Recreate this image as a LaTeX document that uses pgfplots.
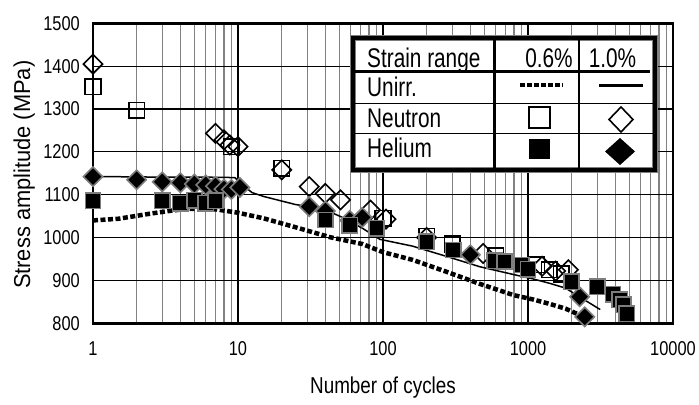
\documentclass[border=0pt]{standalone}
\usepackage{fontspec}
\setmainfont{Liberation Sans}[FakeStretch=0.82]
\newfontfamily\legfont{Liberation Sans}[FakeStretch=0.77]
\newfontfamily\ylabfont{Liberation Sans}[FakeStretch=0.95]
\usepackage{pgfplots}
\pgfplotsset{compat=1.18}
\definecolor{mgray}{RGB}{130,130,130}
\definecolor{ogray}{RGB}{125,125,125}

\begin{document}
\begin{tikzpicture}
\begin{axis}[
  scale only axis, width=580pt, height=300pt,
  xmode=log, xmin=1, xmax=10000, ymin=800, ymax=1500,
  xtick={1,10,100,1000,10000}, xticklabels={1,10,100,1000,10000},
  minor xtick={2,3,4,5,6,7,8,9,20,30,40,50,60,70,80,90,200,300,400,500,600,700,800,900,2000,3000,4000,5000,6000,7000,8000,9000},
  ytick={800,900,1000,1100,1200,1300,1400,1500},
  yticklabels={800,900,1000,1100,1200,1300,1400,1500},
  major tick length=0pt, minor tick length=0pt,
  xmajorgrids, xminorgrids, ymajorgrids,
  major grid style={black, line width=1.2pt},
  minor grid style={mgray, line width=1.2pt},
  axis line style={black, line width=2.5pt},
  tick label style={font=\fontsize{20}{24}\selectfont, inner sep=0pt},
  xticklabel style={anchor=north, yshift=-18pt},
  yticklabel style={anchor=east, xshift=-13pt},
  label style={font=\fontsize{23}{27}\selectfont},
  xlabel={Number of cycles}, ylabel={Stress amplitude (MPa)},
  xlabel style={at={(axis description cs:0.5,-0.235)}, anchor=base},
  ylabel style={at={(axis description cs:-0.1086,0.495)}, anchor=base, font=\ylabfont\fontsize{23}{27}\selectfont},
  clip=false,
]
% Unirr. 0.6%
\addplot[black, line width=4.5pt, dash pattern=on 5pt off 2.5pt] coordinates {
 (1,1040) (1.5,1044) (2.5,1056) (3.5,1063) (4.5,1067) (7,1066) (10,1058)
 (15,1045) (25,1024) (43,1001) (72,985) (100,966) (160,948) (275,920)
 (465,892) (790,866) (1070,856) (1420,845) (1820,834) (2500,813)};
% Unirr. 1.0%
\addplot[black, line width=1.5pt] coordinates {
 (1,1142) (1.5,1142) (3,1141) (6,1141) (9.5,1140) (11,1120) (12.5,1105)
 (15,1096) (25,1077) (38,1068) (51,1049) (72,1022) (95,996) (160,980)
 (275,956) (465,932) (790,914) (1070,904) (1420,893) (1820,882) (2160,866) (3150,832)};
% Neutron 0.6%
\addplot[only marks, mark=square, mark size=7.8pt, mark options={draw=black, line width=1.6pt}] coordinates {
 (1,1352) (2,1297) (9,1212) (20,1162) (100,1045) (200,1003) (300,985)
 (600,958) (1150,937) (1400,925) (1700,915)};
% Neutron 1.0%
\addplot[only marks, mark=square, mark size=6.8pt, mark options={rotate=45, draw=black, line width=1.6pt}] coordinates {
 (1,1405) (7,1243) (8,1228) (8.8,1216) (10,1212) (20,1158) (31,1119) (40,1103)
 (51,1088) (82,1064) (105,1043) (200,1000) (490,963) (1250,933) (1550,922) (1900,925)};
% Helium 1.0%
\addplot[only marks, mark=square*, mark size=6.8pt, mark options={rotate=45, fill=black, draw=ogray, line width=1.6pt}] coordinates {
 (1,1142) (2,1135) (3,1130) (4,1128) (5,1125) (6,1123) (7,1120) (8,1113) (9,1112)
 (10.3,1117) (31,1072) (40,1062) (59,1040) (72,1047) (400,960) (2270,862) (2460,815)};
% Helium 0.6%
\addplot[only marks, mark=square*, mark size=7.6pt, mark options={fill=black, draw=ogray, line width=1.6pt}] coordinates {
 (1,1086) (3,1086) (4,1080) (5,1087) (6,1080) (7,1086) (40,1041) (59,1029) (90,1022)
 (200,990) (305,971) (590,946) (690,944) (900,936) (1000,926) (2000,897) (3000,885)
 (3860,868) (4300,855) (4550,843) (4800,822)};
\end{axis}
% legend table
\begin{scope}[shift={(current axis.north west)}, xshift=-93pt, yshift=23.3pt, x=1pt, y=-1pt,
  every node/.style={inner sep=0pt, font=\legfont\fontsize{27}{30}\selectfont}]
 \fill[white] (353,38) rectangle (655,170);
 \draw[ogray, line width=5.5pt] (353,38) rectangle (655,170);
 \draw[black, line width=3.5pt] (353,38) rectangle (655,170);
 \draw[line width=3.5pt] (353,71.7) -- (650,71.7);
 \draw[line width=3pt] (494,38) -- (494,168);
 \draw[line width=1.8pt] (579,38) -- (579,168);
 \draw[line width=1.5pt] (353,103.3) -- (655,103.3);
 \draw[line width=1.5pt] (353,133.3) -- (655,133.3);
 \node[anchor=base west] at (367,68) {Strain range};
 \node[anchor=base] at (549,68) {0.6\%};
 \node[anchor=base] at (612.5,68) {1.0\%};
 \node[anchor=base west] at (367,96.7) {Unirr.};
 \node[anchor=base west] at (367,128) {Neutron};
 \node[anchor=base west] at (367,158) {Helium};
 \draw[line width=4pt, dash pattern=on 5pt off 2pt] (520,85) -- (563,85);
 \draw[line width=3pt] (599,85.7) -- (643,85.7);
 \draw[line width=1.6pt] (529,107) rectangle (550,128);
 \draw[line width=1.6pt] (621,107) -- (633,119.5) -- (621,132) -- (609,119.5) -- cycle;
 \fill (529,139) rectangle (550,159);
 \fill (620,138) -- (635,151.5) -- (620,165) -- (605,151.5) -- cycle;
\end{scope}
\pgfresetboundingbox
\path[use as bounding box] ([shift={(-93pt,-81.7pt)}]current axis.south west) rectangle ([shift={(26pt,23.3pt)}]current axis.north east);
\end{tikzpicture}
\end{document}
